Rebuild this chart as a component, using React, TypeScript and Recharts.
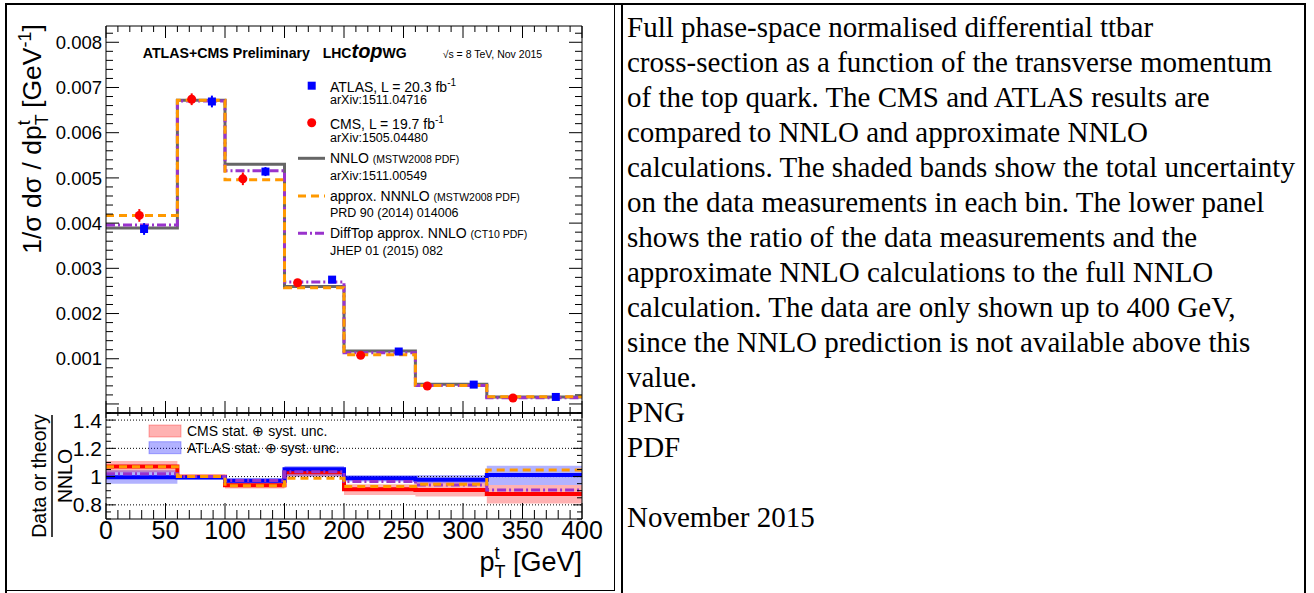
import React from 'react';
import { ComposedChart, Line, Scatter, XAxis, YAxis, ErrorBar, Area, ReferenceLine } from 'recharts';

// ---------- data ----------
const binEdges = [0, 60, 100, 150, 200, 260, 320, 400];
const nnlo = [0.00389, 0.00672, 0.0053, 0.0026, 0.00117, 0.000435, 0.000155];
const approxNNNLO = [0.00417, 0.00672, 0.00496, 0.00257, 0.00109, 0.00041, 0.000162];
const diffTop = [0.00396, 0.0067, 0.00516, 0.0027, 0.00113, 0.00041, 0.00014];

const atlasX = [32, 89, 134, 190, 246, 309, 378];
const atlasY = [0.00387, 0.00669, 0.00514, 0.00275, 0.00116, 0.000428, 0.000155];
const atlasErr = [0.00013, 0.00013, 0.0001, 0.00004, 0.00002, 0.00001, 0.000007];
const cmsX = [28, 72, 115, 161, 214, 270, 342];
const cmsY = [0.00417, 0.00674, 0.00498, 0.00268, 0.001075, 0.000397, 0.000133];
const cmsErr = [0.00014, 0.00013, 0.00014, 0.00004, 0.00002, 0.00001, 0.000007];

const cmsRatio = [1.071, 0.999, 0.939, 1.031, 0.911, 0.906, 0.877];
const atlasRatio = [0.995, 0.993, 0.97, 1.052, 0.988, 0.977, 1.012];
const approxRatio = [1.07, 1.0, 0.935, 0.988, 0.93, 0.945, 1.047];
const diffTopRatio = [1.02, 1.0, 0.972, 1.035, 0.965, 0.94, 0.906];
const cmsBandLo = [1.03, 0.985, 0.915, 1.0, 0.87, 0.86, 0.81];
const cmsBandHi = [1.11, 1.015, 0.965, 1.06, 0.945, 0.96, 0.94];
const atlasBandLo = [0.95, 0.98, 0.95, 1.0, 0.965, 0.953, 0.94];
const atlasBandHi = [1.045, 1.005, 0.99, 1.075, 1.012, 1.012, 1.076];

const xMajorTicks = [0, 50, 100, 150, 200, 250, 300, 350, 400];
const xTickLabels = ['0', '50', '100', '150', '200', '250', '300', '350', '400'];
const upperYMajor = [0.001, 0.002, 0.003, 0.004, 0.005, 0.006, 0.007, 0.008];
const upperYLabels = ['0.001', '0.002', '0.003', '0.004', '0.005', '0.006', '0.007', '0.008'];
const lowerYMajor = [0.8, 1.0, 1.2, 1.4];
const lowerYLabels = ['0.8', '1', '1.2', '1.4'];

const captionLines = [
  'Full phase-space normalised differential ttbar',
  'cross-section as a function of the transverse momentum',
  'of the top quark. The CMS and ATLAS results are',
  'compared to NNLO and approximate NNLO',
  'calculations. The shaded bands show the total uncertainty',
  'on the data measurements in each bin. The lower panel',
  'shows the ratio of the data measurements and the',
  'approximate NNLO calculations to the full NNLO',
  'calculation. The data are only shown up to 400 GeV,',
  'since the NNLO prediction is not available above this',
  'value.',
  'PNG',
  'PDF',
  '',
  'November 2015',
];

// ---------- helpers ----------
const step = (vals: number[]) => binEdges.map((x, i) => ({ x, y: vals[Math.min(i, vals.length - 1)] }));
const stepRange = (lo: number[], hi: number[]) =>
  binEdges.map((x, i) => ({ x, y: [lo[Math.min(i, lo.length - 1)], hi[Math.min(i, hi.length - 1)]] }));
const points = (xs: number[], ys: number[], es: number[]) => xs.map((x, i) => ({ x, y: ys[i], e: es[i] }));

const FONT = "'Liberation Sans', Arial, Helvetica, sans-serif";
const W = 614;
const H = 593;
const PL = 106;
const PR = 582;
const UT = 26;
const MID = 413;
const LB = 519;

const range = (a: number, b: number, s: number) => {
  const out: number[] = [];
  const n = Math.round((b - a) / s);
  for (let i = 0; i <= n; i++) out.push(+(a + i * s).toFixed(6));
  return out;
};
const xAllTicks = range(0, 400, 10);
const upperYAll = range(0, 0.0082, 0.0002);
const lowerYAll = range(0.7, 1.45, 0.05);

const isIn = (arr: number[], v: number) => arr.findIndex((m) => Math.abs(m - v) < 1e-9);

const makeXTick = (dir: number, majLen: number, minLen: number, withLabels: boolean, fs: number, dy: number) => (p: any) => {
  const v = p.payload.value;
  const mi = isIn(xMajorTicks, v);
  const len = mi >= 0 ? majLen : minLen;
  return (
    <g>
      <line x1={p.x} x2={p.x} y1={p.y} y2={p.y + dir * len} stroke="#000" strokeWidth={1} />
      {withLabels && mi >= 0 && (
        <text x={p.x} y={p.y + dy} textAnchor="middle" fontSize={fs} fontFamily={FONT} fill="#000">
          {xTickLabels[mi]}
        </text>
      )}
    </g>
  );
};

const makeYTick = (dir: number, majors: number[], labels: string[] | null, majLen: number, minLen: number, fs: number) => (p: any) => {
  const v = p.payload.value;
  const mi = isIn(majors, v);
  const isMajor = mi >= 0 || Math.abs(v) < 1e-12;
  const len = isMajor ? majLen : minLen;
  return (
    <g>
      <line x1={p.x} x2={p.x + dir * len} y1={p.y} y2={p.y} stroke="#000" strokeWidth={1} />
      {labels && mi >= 0 && (
        <text x={p.x - 4} y={p.y} dy="0.36em" textAnchor="end" fontSize={fs} fontFamily={FONT} fill="#000">
          {labels[mi]}
        </text>
      )}
    </g>
  );
};

const squareShape = (p: any) => <rect x={p.cx - 4} y={p.cy - 4} width={8} height={8} fill="#0000ff" />;
const circleShape = (p: any) => <circle cx={p.cx} cy={p.cy} r={4.5} fill="#ff0000" />;

const axisCommon = { tickSize: 0, tickMargin: 0, interval: 0 as const, allowDataOverflow: true };

export default function App() {
  return (
    <div style={{ position: 'absolute', left: 0, top: 0, width: 1314, height: 593, background: '#fff', overflow: 'hidden' }}>
      {/* table borders */}
      <div style={{ position: 'absolute', left: 5, top: 3, width: 1301, height: 2, background: '#000' }} />
      <div style={{ position: 'absolute', left: 5, top: 3, width: 2, height: 590, background: '#000' }} />
      <div style={{ position: 'absolute', left: 1304, top: 3, width: 2, height: 590, background: '#000' }} />
      <div style={{ position: 'absolute', left: 7, top: 5, width: 607, height: 585, borderRight: '1px solid #000', borderBottom: '1px solid #000' }} />
      <div style={{ position: 'absolute', left: 621, top: 3, width: 2, height: 590, background: '#000' }} />

      {/* upper panel */}
      <div style={{ position: 'absolute', left: 0, top: 0 }}>
        <ComposedChart width={W} height={H} margin={{ top: UT - 1, left: PL - 1, right: W - PR - 1, bottom: H - MID - 1 }}>
          <XAxis xAxisId="x" dataKey="x" type="number" domain={[0, 400]} ticks={xAllTicks} orientation="bottom" height={1}
            {...axisCommon} axisLine={{ stroke: '#000', strokeWidth: 1.5 }} tick={makeXTick(-1, 12, 6, false, 0, 0)} />
          <XAxis xAxisId="xt" dataKey="x" type="number" domain={[0, 400]} ticks={xAllTicks} orientation="top" height={1}
            {...axisCommon} axisLine={{ stroke: '#000' }} tick={makeXTick(1, 12, 6, false, 0, 0)} />
          <YAxis yAxisId="y" dataKey="y" type="number" domain={[-0.0002, 0.00836]} ticks={upperYAll} width={1}
            {...axisCommon} axisLine={{ stroke: '#000' }} tick={makeYTick(1, upperYMajor, upperYLabels, 13, 7, 18.5)} />
          <YAxis yAxisId="yr" dataKey="y" type="number" orientation="right" domain={[-0.0002, 0.00836]} ticks={upperYAll} width={1}
            {...axisCommon} axisLine={{ stroke: '#000' }} tick={makeYTick(-1, upperYMajor, null, 13, 7, 0)} />
          <Line xAxisId="x" yAxisId="y" data={step(nnlo)} dataKey="y" type="stepAfter" stroke="#666666" strokeWidth={3} dot={false} isAnimationActive={false} />
          <Line xAxisId="x" yAxisId="y" data={step(diffTop)} dataKey="y" type="stepAfter" stroke="#9933cc" strokeWidth={3} strokeDasharray="9 3 2 3" dot={false} isAnimationActive={false} />
          <Line xAxisId="x" yAxisId="y" data={step(approxNNNLO)} dataKey="y" type="stepAfter" stroke="#ff9900" strokeWidth={3} strokeDasharray="8 5" dot={false} isAnimationActive={false} />
          <Scatter xAxisId="x" yAxisId="y" data={points(cmsX, cmsY, cmsErr)} dataKey="y" shape={circleShape} isAnimationActive={false}>
            <ErrorBar dataKey="e" direction="y" width={0} stroke="#ff0000" strokeWidth={2} />
          </Scatter>
          <Scatter xAxisId="x" yAxisId="y" data={points(atlasX, atlasY, atlasErr)} dataKey="y" shape={squareShape} isAnimationActive={false}>
            <ErrorBar dataKey="e" direction="y" width={0} stroke="#0000ff" strokeWidth={2} />
          </Scatter>
        </ComposedChart>
      </div>

      {/* lower panel */}
      <div style={{ position: 'absolute', left: 0, top: 0 }}>
        <ComposedChart width={W} height={H} margin={{ top: MID - 1, left: PL - 1, right: W - PR - 1, bottom: H - LB - 1 }}>
          <XAxis xAxisId="x" dataKey="x" type="number" domain={[0, 400]} ticks={xAllTicks} orientation="bottom" height={1}
            {...axisCommon} axisLine={{ stroke: '#000' }} tick={makeXTick(-1, 16, 9, true, 25, 20)} />
          <XAxis xAxisId="xt" dataKey="x" type="number" domain={[0, 400]} ticks={xAllTicks} orientation="top" height={1}
            {...axisCommon} axisLine={{ stroke: '#000', strokeWidth: 1.5 }} tick={makeXTick(1, 5, 3, false, 0, 0)} />
          <YAxis yAxisId="y" dataKey="y" type="number" domain={[0.7, 1.45]} ticks={lowerYAll} width={1}
            {...axisCommon} axisLine={{ stroke: '#000' }} tick={makeYTick(1, lowerYMajor, lowerYLabels, 9, 5, 21)} />
          <YAxis yAxisId="yr" dataKey="y" type="number" orientation="right" domain={[0.7, 1.45]} ticks={lowerYAll} width={1}
            {...axisCommon} axisLine={{ stroke: '#000' }} tick={makeYTick(-1, lowerYMajor, null, 9, 5, 0)} />
          <Area xAxisId="x" yAxisId="y" data={stepRange(cmsBandLo, cmsBandHi)} dataKey="y" type="stepAfter" stroke="none" fill="#ff0000" fillOpacity={0.3} isAnimationActive={false} />
          <Area xAxisId="x" yAxisId="y" data={stepRange(atlasBandLo, atlasBandHi)} dataKey="y" type="stepAfter" stroke="none" fill="#0000ff" fillOpacity={0.3} isAnimationActive={false} />
          {lowerYMajor.map((v) => (
            <ReferenceLine key={v} xAxisId="x" yAxisId="y" y={v} stroke="#000" strokeWidth={1} strokeDasharray="1 2" />
          ))}
          <Line xAxisId="x" yAxisId="y" data={step(cmsRatio)} dataKey="y" type="stepAfter" stroke="#ff0000" strokeWidth={4} dot={false} isAnimationActive={false} />
          <Line xAxisId="x" yAxisId="y" data={step(atlasRatio)} dataKey="y" type="stepAfter" stroke="#0000ff" strokeWidth={4} dot={false} isAnimationActive={false} />
          <Line xAxisId="x" yAxisId="y" data={step(diffTopRatio)} dataKey="y" type="stepAfter" stroke="#9933cc" strokeWidth={3} strokeDasharray="9 3 2 3" dot={false} isAnimationActive={false} />
          <Line xAxisId="x" yAxisId="y" data={step(approxRatio)} dataKey="y" type="stepAfter" stroke="#ff9900" strokeWidth={3} strokeDasharray="8 5" dot={false} isAnimationActive={false} />
        </ComposedChart>
      </div>

      {/* overlay text & legends */}
      <svg width={W} height={H} style={{ position: 'absolute', left: 0, top: 0, pointerEvents: 'none' }} fontFamily={FONT}>
        <text x={142.7} y={58.3} fontSize={14.2} fontWeight="bold">ATLAS+CMS Preliminary</text>
        <text x={322.7} y={58.3} fontWeight="bold" fontSize={14}>
          LHC<tspan fontSize={20} fontStyle="italic">top</tspan>WG
        </text>
        <text x={442.7} y={57.8} fontSize={10.5}>√s = 8 TeV, Nov 2015</text>

        <rect x={307.7} y={81.7} width={8} height={8} fill="#0000ff" />
        <text x={330} y={91.5} fontSize={14}>ATLAS, L = 20.3 fb<tspan fontSize={10} dy={-6}>-1</tspan></text>
        <text x={330} y={104} fontSize={12.5}>arXiv:1511.04716</text>

        <circle cx={311.7} cy={122.7} r={4.5} fill="#ff0000" />
        <text x={330} y={129} fontSize={14}>CMS, L = 19.7 fb<tspan fontSize={10} dy={-6}>-1</tspan></text>
        <text x={330} y={141.5} fontSize={12.5}>arXiv:1505.04480</text>

        <line x1={298} x2={325} y1={158.3} y2={158.3} stroke="#666666" strokeWidth={3} />
        <text x={330} y={163} fontSize={14}>NNLO <tspan fontSize={10.5}>(MSTW2008 PDF)</tspan></text>
        <text x={330} y={179.5} fontSize={12.5}>arXiv:1511.00549</text>

        <line x1={298} x2={325} y1={196} y2={196} stroke="#ff9900" strokeWidth={3} strokeDasharray="8 5" />
        <text x={330} y={201} fontSize={14}>approx. NNNLO <tspan fontSize={10.5}>(MSTW2008 PDF)</tspan></text>
        <text x={330} y={217} fontSize={12.5}>PRD 90 (2014) 014006</text>

        <line x1={298} x2={325} y1={233.3} y2={233.3} stroke="#9933cc" strokeWidth={3} strokeDasharray="9 3 2 3" />
        <text x={330} y={238} fontSize={14}>DiffTop approx. NNLO <tspan fontSize={10.5}>(CT10 PDF)</tspan></text>
        <text x={330} y={255} fontSize={12.5}>JHEP 01 (2015) 082</text>

        <rect x={149} y={425} width={32} height={12} fill="#ff0000" fillOpacity={0.3} stroke="#ff0000" strokeOpacity={0.3} />
        <text x={187} y={436} fontSize={14}>CMS stat. ⊕ syst. unc.</text>
        <rect x={149} y={441.7} width={32} height={12} fill="#0000ff" fillOpacity={0.3} stroke="#0000ff" strokeOpacity={0.3} />
        <text x={187} y={452.5} fontSize={14}>ATLAS stat. ⊕ syst. unc.</text>

        {/* upper y title */}
        <text transform="translate(41,139) rotate(-90)" textAnchor="middle" fontSize={26.5}>
          1/σ dσ / dp<tspan fontSize={18} dy={7}>T</tspan><tspan fontSize={18} dx={-11} dy={-18}>t</tspan>
          <tspan dx={5} dy={11}>{'\u00A0[GeV'}</tspan><tspan fontSize={18} dy={-10}>-1</tspan><tspan dy={10}>]</tspan>
        </text>

        {/* lower y title */}
        <text transform="translate(46,476) rotate(-90)" textAnchor="middle" fontSize={19.5}>Data or theory</text>
        <line x1={52} x2={52} y1={415} y2={537} stroke="#000" strokeWidth={1.5} />
        <text transform="translate(71.5,476) rotate(-90)" textAnchor="middle" fontSize={19.5}>NNLO</text>

        {/* x title */}
        <text x={582} y={571} textAnchor="end" fontSize={27}>
          p<tspan fontSize={18} dy={7}>T</tspan><tspan fontSize={18} dx={-11} dy={-19}>t</tspan><tspan dx={6} dy={12}>{'\u00A0[GeV]'}</tspan>
        </text>
      </svg>

      {/* caption */}
      <div style={{ position: 'absolute', left: 627, top: 10, fontFamily: "'Liberation Serif', 'Times New Roman', serif", fontSize: 29, lineHeight: '35px', color: '#000', whiteSpace: 'nowrap' }}>
        {captionLines.map((l, i) => (
          <div key={i} style={{ height: 35 }}>{l}</div>
        ))}
      </div>
    </div>
  );
}
